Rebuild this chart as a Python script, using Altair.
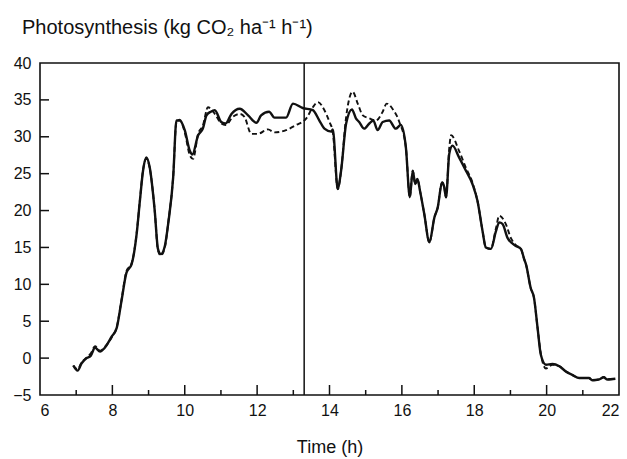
import altair as alt
import pandas as pd

# Measured canopy photosynthesis (solid line)
solid_time = [6.92, 7.04, 7.15, 7.29, 7.40, 7.52, 7.66, 7.79, 7.98, 8.12, 8.25, 8.39,
              8.53, 8.67, 8.76, 8.85, 8.94, 9.03, 9.17, 9.26, 9.34, 9.45, 9.55, 9.68,
              9.77, 9.86, 10.00, 10.14, 10.21, 10.37, 10.50, 10.60, 10.72, 10.83, 11.01,
              11.13, 11.29, 11.52, 11.75, 11.98, 12.11, 12.33, 12.48, 12.80, 12.99, 13.26,
              13.54, 13.72, 13.86, 14.05, 14.09, 14.23, 14.32, 14.46, 14.62, 14.73, 14.82,
              14.96, 15.10, 15.21, 15.33, 15.47, 15.65, 15.83, 15.97, 16.11, 16.22, 16.30,
              16.37, 16.43, 16.50, 16.62, 16.76, 16.90, 16.99, 17.11, 17.17, 17.22, 17.31,
              17.40, 17.58, 17.77, 17.95, 18.09, 18.23, 18.32, 18.46, 18.60, 18.69, 18.78,
              18.92, 19.15, 19.29, 19.38, 19.43, 19.56, 19.65, 19.75, 19.84, 19.98, 20.16,
              20.35, 20.53, 20.72, 20.90, 21.17, 21.26, 21.44, 21.58, 21.67, 21.90]
solid_rate = [-1.0, -1.7, -0.7, 0.0, 0.3, 1.4, 0.9, 1.4, 2.9, 4.1, 7.7, 11.6,
              12.7, 16.8, 21.3, 25.5, 27.2, 25.9, 20.0, 14.8, 14.1, 15.2, 18.5, 24.5,
              32.2, 32.2, 30.9, 28.1, 27.6, 30.2, 31.1, 32.9, 33.4, 33.6, 32.0,
              31.8, 33.1, 33.8, 32.9, 31.9, 32.9, 33.4, 32.6, 32.6, 34.5, 33.9,
              33.6, 32.2, 31.1, 30.7, 31.0, 22.9, 25.4, 31.8, 33.7, 32.5, 32.0,
              31.1, 31.8, 32.2, 30.9, 32.0, 32.2, 31.1, 31.6, 28.6, 21.8, 25.4,
              23.6, 24.3, 22.7, 19.5, 15.7, 19.1, 20.4, 23.8, 23.2, 21.8, 27.7,
              28.8, 27.2, 25.4, 23.6, 21.3, 17.2, 15.0, 14.8, 17.2, 18.4, 18.2,
              16.3, 15.2, 14.8, 13.4, 12.7, 9.5, 8.2, 4.1, 0.45, -0.9, -0.8,
              -1.1, -1.8, -2.3, -2.7, -2.7, -3.0, -2.9, -2.6, -2.9, -2.8]

# Simulated canopy photosynthesis (dashed line)
dashed_time = [6.92, 7.04, 7.15, 7.29, 7.40, 7.52, 7.66, 7.79, 7.98, 8.12, 8.25, 8.39,
               8.53, 8.67, 8.76, 8.85, 8.94, 9.03, 9.17, 9.26, 9.34, 9.45, 9.55, 9.68,
               9.77, 9.86, 10.00, 10.14, 10.23, 10.37, 10.50, 10.64, 10.83, 11.01, 11.13,
               11.33, 11.52, 11.65, 11.84, 12.02, 12.30, 12.48, 12.80, 13.08, 13.36, 13.54,
               13.68, 13.86, 14.00, 14.09, 14.23, 14.32, 14.46, 14.64, 14.78, 14.92, 15.10,
               15.28, 15.47, 15.58, 15.74, 15.93, 16.11, 16.22, 16.30, 16.37, 16.43, 16.50,
               16.62, 16.76, 16.90, 16.99, 17.11, 17.17, 17.22, 17.31, 17.36, 17.58, 17.77,
               17.95, 18.09, 18.23, 18.32, 18.46, 18.60, 18.69, 18.87, 19.01, 19.15, 19.29,
               19.38, 19.43, 19.56, 19.65, 19.75, 19.84, 19.98, 20.16, 20.35, 20.53, 20.72,
               20.90, 21.17, 21.26, 21.44, 21.58, 21.67, 21.90]
dashed_rate = [-1.0, -1.5, -0.6, 0.1, 0.6, 1.6, 1.0, 1.5, 2.8, 4.2, 7.8, 11.8,
               12.8, 16.9, 21.4, 25.6, 27.0, 25.8, 20.0, 14.6, 13.9, 15.0, 18.6, 24.6,
               32.0, 32.3, 30.6, 27.5, 27.0, 30.4, 31.5, 34.0, 33.1, 31.8, 31.6,
               32.7, 33.1, 32.7, 30.4, 30.4, 31.0, 30.6, 30.9, 31.6, 32.5, 34.0,
               34.7, 33.6, 32.0, 30.7, 22.9, 25.4, 32.7, 36.1, 34.5, 32.9, 32.5,
               32.2, 33.4, 34.5, 33.8, 32.0, 28.6, 21.8, 25.4, 23.6, 24.3, 22.7,
               19.5, 15.7, 19.1, 20.4, 23.8, 23.2, 21.8, 28.5, 30.2, 28.1, 25.8,
               23.8, 21.3, 17.2, 15.0, 14.8, 17.6, 19.3, 18.2, 16.3, 15.3, 14.8,
               13.4, 12.7, 9.5, 8.2, 4.1, 0.6, -1.4, -0.9, -1.1, -1.8, -2.3,
               -2.7, -2.7, -3.0, -2.9, -2.6, -2.9, -2.8]

x_labels = [6, 8, 10, 12, 14, 16, 18, 20, 22]
x_major_ticks = [8, 10, 12, 14, 16, 18, 20]
x_minor_ticks = [7, 9, 11, 13, 15, 17, 19, 21]
y_labels = [-5, 0, 5, 10, 15, 20, 25, 30, 35, 40]
y_ticks = [0, 5, 10, 15, 20, 25, 30, 35]
divider_time = [13.3]

W, H = 579, 332
FONT = "Liberation Sans"
INK = "#111111"

x_scale = alt.Scale(domain=[6, 22], nice=False, zero=False)
y_scale = alt.Scale(domain=[-5, 40], nice=False, zero=False)

# One axis definition per channel, shared by every layer so they merge cleanly
x_axis = alt.Axis(
    values=x_labels, ticks=False, domain=False, grid=False,
    labelFont=FONT, labelFontSize=16, labelColor=INK, labelPadding=7,
    title="Time (h)", titleFont=FONT, titleFontSize=18, titleFontWeight="normal",
    titleColor=INK, titlePadding=20)
y_axis = alt.Axis(
    values=y_labels, ticks=False, domain=False, grid=False,
    labelFont=FONT, labelFontSize=16, labelColor=INK, labelPadding=9,
    title="")

X = alt.X("time:Q", scale=x_scale, axis=x_axis)
Y = alt.Y("rate:Q", scale=y_scale, axis=y_axis)

solid_df = pd.DataFrame({"time": solid_time, "rate": solid_rate})
dashed_df = pd.DataFrame({"time": dashed_time, "rate": dashed_rate})

solid = alt.Chart(solid_df).mark_line(
    color=INK, strokeWidth=2.4, interpolate="monotone"
).encode(x=X, y=Y)

dashed = alt.Chart(dashed_df).mark_line(
    color=INK, strokeWidth=1.9, strokeDash=[5, 3], interpolate="monotone"
).encode(x=X, y=Y)

divider = alt.Chart(pd.DataFrame({"time": divider_time})).mark_rule(
    color=INK, strokeWidth=1.5
).encode(x=X)

major_x = alt.Chart(pd.DataFrame({"time": x_major_ticks})).mark_rule(
    color=INK, strokeWidth=1.5
).encode(x=X, y=alt.value(H), y2=alt.value(H - 10))

minor_x = alt.Chart(pd.DataFrame({"time": x_minor_ticks})).mark_rule(
    color=INK, strokeWidth=1.5
).encode(x=X, y=alt.value(H), y2=alt.value(H - 5))

ticks_y = alt.Chart(pd.DataFrame({"rate": y_ticks})).mark_rule(
    color=INK, strokeWidth=1.5
).encode(y=Y, x=alt.value(0), x2=alt.value(9))

chart = alt.layer(solid, dashed, divider, major_x, minor_x, ticks_y).properties(
    width=W, height=H,
    autosize="none",
    padding={"left": 40, "top": 63, "right": 8, "bottom": 64},
    background="white",
    title=alt.TitleParams(
        text="Photosynthesis (kg CO₂ ha⁻¹ h⁻¹)",
        anchor="start", frame="group", dx=-18, offset=17,
        font=FONT, fontSize=20, fontWeight="normal", color=INK,
    ),
).configure_view(stroke=INK, strokeWidth=1.6)

chart.save("out.html", embed_options={"renderer": "svg", "actions": False})
